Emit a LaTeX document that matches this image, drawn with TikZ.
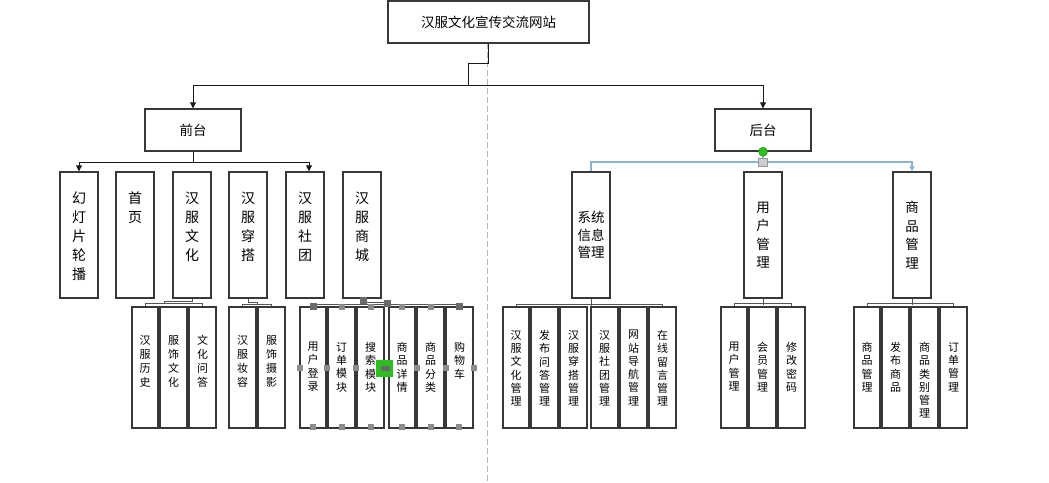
\documentclass[tikz,border=0pt]{standalone}
\usepackage{fontspec}
\newfontfamily\cjk{Noto Sans CJK SC}
\usetikzlibrary{arrows.meta,fit}
\definecolor{boxc}{HTML}{383838}
\definecolor{linec}{HTML}{1A1A1A}
\definecolor{busc}{HTML}{555555}
\definecolor{dashc}{HTML}{B4B4B4}
\definecolor{selc}{HTML}{8DB3D3}
\definecolor{hdlc}{HTML}{6A6A6A}
\definecolor{hdll}{HTML}{8C8C8C}
\definecolor{grn}{HTML}{2DBE22}
\definecolor{grnd}{HTML}{1C8A14}
\newcommand\bx[6][]{\node[box,fit={(#3,#4) (#5,#6)},#1] (#2) {};}
\newcommand\hd[4]{\fill[#1] (#2,#3) ++(-#4,-#4) rectangle ++(2*#4,2*#4);}
\begin{document}
\begin{tikzpicture}[x=1pt,y=-1pt,
 box/.style={draw=boxc,line width=1.4pt,inner sep=0pt},
 tx/.style={font=\cjk\fontsize{13.5}{17.5}\selectfont,align=center,text=black},
 ttop/.style={font=\cjk\fontsize{14}{19}\selectfont,align=center,inner sep=0pt,anchor=north},
 tsubA/.style={font=\cjk\fontsize{11}{14}\selectfont,align=center,inner sep=0pt,anchor=north},
 tsubB/.style={font=\cjk\fontsize{11}{13.3}\selectfont,align=center,inner sep=0pt,anchor=north},
 conn/.style={draw=linec,line width=0.9pt},
 arr/.style={-{Triangle[length=6pt,width=6pt]}},
 bus/.style={draw=busc,line width=0.9pt},
 sel/.style={draw=selc,line width=1.1pt},
]
\fill[white] (0,0) rectangle (1049,482);
\useasboundingbox (0,0) rectangle (1049,482);

% dashed divider
\draw[dashc,line width=0.8pt,dash pattern=on 6pt off 3pt] (487,43) -- (487,482);

% top levels
\bx[tx]{T}{388}{1}{589}{43}
\node[tx,inner sep=0pt] (Tt) at (T.center) {汉服文化宣传交流网站};
\bx[tx]{F}{145}{109}{241}{151}
\node[tx,inner sep=0pt] (Ft) at (F.center) {前台};
\bx[tx]{B}{715}{109}{811}{151}
\node[tx,inner sep=0pt] (Bt) at (B.center) {后台};

\coordinate (j1) at (468,63);
\coordinate (j2) at (468,85);
\draw[conn] (T.south) |- (j1) -- (j2);
\draw[conn,arr] (j2) -| (F.north);
\draw[conn,arr] (j2) -| (B.north);

% front children
\bx{f1}{60}{172}{98}{298}
\bx{f2}{116}{172}{154}{298}
\bx{f3}{173}{172}{211}{298}
\bx{f4}{229}{172}{267}{298}
\bx{f5}{286}{172}{324}{298}
\bx{f6}{343}{172}{381}{298}
\node[ttop] (f1t) at (79,191.7) {幻\\灯\\片\\轮\\播};
\node[ttop] (f2t) at (135,191.7) {首\\页};
\node[ttop] (f3t) at (192,191.7) {汉\\服\\文\\化};
\node[ttop] (f4t) at (248,191.7) {汉\\服\\穿\\搭};
\node[ttop] (f5t) at (305,191.7) {汉\\服\\社\\团};
\node[ttop] (f6t) at (362,191.7) {汉\\服\\商\\城};

\coordinate (fb) at (193,162);
\draw[conn] (F.south) -- (fb);
\draw[conn,arr] (fb) -| (f1.north);
\draw[conn,arr] (fb) -| ([xshift=4pt]f5.north);

% culture children
\bx{c1}{132}{307}{158}{428}
\bx{c2}{160}{307}{187}{428}
\bx{c3}{189}{307}{216}{428}
\node[tsubA] (c1t) at (c1.north |- 0,335) {汉\\服\\历\\史};
\node[tsubA] (c2t) at (c2.north |- 0,335) {服\\饰\\文\\化};
\node[tsubA] (c3t) at (c3.north |- 0,335) {文\\化\\问\\答};
\coordinate (cj) at (164,301);
\draw[bus] (f3.south) |- (cj) -- ++(0,3);
\draw[bus] (c1.north) -- ++(0,-3) -| (c3.north);

% dress children
\bx{d1}{229}{307}{256}{428}
\bx{d2}{258}{307}{285}{428}
\node[tsubA] (d1t) at (d1.north |- 0,335) {汉\\服\\妆\\容};
\node[tsubA] (d2t) at (d2.north |- 0,335) {服\\饰\\摄\\影};
\coordinate (dj) at (257,302);
\draw[bus] (f4.south) |- (dj) -- ++(0,3);
\draw[bus] (d1.north) -- ++(0,-2) -| (d2.north);

% shop children
\bx{s1}{300}{307}{326}{428}
\bx{s2}{328}{307}{355}{428}
\bx{s3}{357}{307}{384}{428}
\bx{s4}{389}{307}{415}{428}
\bx{s5}{417}{307}{444}{428}
\bx{s6}{446}{307}{473}{428}
\coordinate (sj) at (387,302);
\draw[bus] (f6.south) |- (sj) -- ++(0,3);
\draw[bus] (s1.north) -- ++(0,-2) -| (s6.north);
\node[tsubB] (s1t) at (s1.north |- 0,342) {用\\户\\登\\录};
\node[tsubB] (s2t) at (s2.north |- 0,342) {订\\单\\模\\块};
\node[tsubB] (s3t) at (s3.north |- 0,342) {搜\\索\\模\\块};
\node[tsubB] (s4t) at (s4.north |- 0,342) {商\\品\\详\\情};
\node[tsubB] (s5t) at (s5.north |- 0,342) {商\\品\\分\\类};
\node[tsubB] (s6t) at (s6.north |- 0,342) {购\\物\\车};

% selection handles on shop group
\hd{hdlc}{313}{306}{3.5}
\hd{hdlc}{459}{306}{3.5}
\hd{hdlc}{363}{300}{3.5}
\hd{hdlc}{387}{303}{3.5}
\foreach \xx in {342,371,402,431} {\hd{hdll}{\xx}{307}{2.8}}
\foreach \xx in {300,327,356,417,446,474} {\hd{hdll}{\xx}{368}{3}}
\foreach \xx in {313,342,371,402,431,459} {\hd{hdll}{\xx}{427}{2.8}}
\fill[grn] (376,360) rectangle (393,377);
\fill[hdlc] (381,365.5) rectangle (390,370.5);

% back children
\bx[tx]{R1}{572}{172}{610}{298}
\bx[tx]{R2}{744}{172}{782}{298}
\bx[tx]{R3}{893}{172}{931}{298}
\node[tx,inner sep=0pt] (R1t) at (R1.center) {系统\\信息\\管理};
\node[tx,inner sep=0pt,font=\cjk\fontsize{13.5}{18.5}\selectfont] (R2t) at (R2.center) {用\\户\\管\\理};
\node[tx,inner sep=0pt,font=\cjk\fontsize{13.5}{18.5}\selectfont] (R3t) at (R3.center) {商\\品\\管\\理};

\coordinate (bb) at (763,162);
\draw[sel] (B.south) -- (bb);
\draw[sel] (bb) -| (R1.north);
\draw[sel,-{Triangle[length=5pt,width=5pt]}] (bb) -| (R3.north);
\filldraw[fill=grn,draw=grnd,line width=0.5pt] (B.south) circle (4.5);
\filldraw[fill=black!20,draw=black!40,line width=0.5pt] (758.5,158) rectangle (767.5,166);

% system children
\bx{r1}{503}{307}{529}{428}
\bx{r2}{531}{307}{558}{428}
\bx{r3}{560}{307}{587}{428}
\bx{r4}{591}{307}{618}{428}
\bx{r5}{620}{307}{647}{428}
\bx{r6}{649}{307}{676}{428}
\draw[bus] (R1.south) -- ++(0,8);
\draw[bus] (r1.north) -- ++(0,-1.5) -| (r6.north);
\node[tsubB] (r1t) at (r1.north |- 0,330) {汉\\服\\文\\化\\管\\理};
\node[tsubB] (r2t) at (r2.north |- 0,330) {发\\布\\问\\答\\管\\理};
\node[tsubB] (r3t) at (r3.north |- 0,330) {汉\\服\\穿\\搭\\管\\理};
\node[tsubB] (r4t) at (r4.north |- 0,330) {汉\\服\\社\\团\\管\\理};
\node[tsubB] (r5t) at (r5.north |- 0,330) {网\\站\\导\\航\\管\\理};
\node[tsubB] (r6t) at (r6.north |- 0,330) {在\\线\\留\\言\\管\\理};

% user children
\bx{u1}{721}{307}{747}{428}
\bx{u2}{749}{307}{776}{428}
\bx{u3}{778}{307}{805}{428}
\draw[bus] (R2.south) -- ++(0,6);
\draw[bus] (u1.north) -- ++(0,-3) -| (u3.north);
\node[tsubB] (u1t) at (u1.north |- 0,342) {用\\户\\管\\理};
\node[tsubB] (u2t) at (u2.north |- 0,342) {会\\员\\管\\理};
\node[tsubB] (u3t) at (u3.north |- 0,342) {修\\改\\密\\码};

% product children
\bx{p1}{854}{307}{880}{428}
\bx{p2}{882}{307}{909}{428}
\bx{p3}{911}{307}{938}{428}
\bx{p4}{940}{307}{967}{428}
\draw[bus] (R3.south) -- ++(0,6);
\draw[bus] (p1.north) -- ++(0,-3) -| (p4.north);
\node[tsubB] (p1t) at (p1.north |- 0,342) {商\\品\\管\\理};
\node[tsubB] (p2t) at (p2.north |- 0,342) {发\\布\\商\\品};
\node[tsubB] (p3t) at (p3.north |- 0,342) {商\\品\\类\\别\\管\\理};
\node[tsubB] (p4t) at (p4.north |- 0,342) {订\\单\\管\\理};
\end{tikzpicture}
\end{document}
